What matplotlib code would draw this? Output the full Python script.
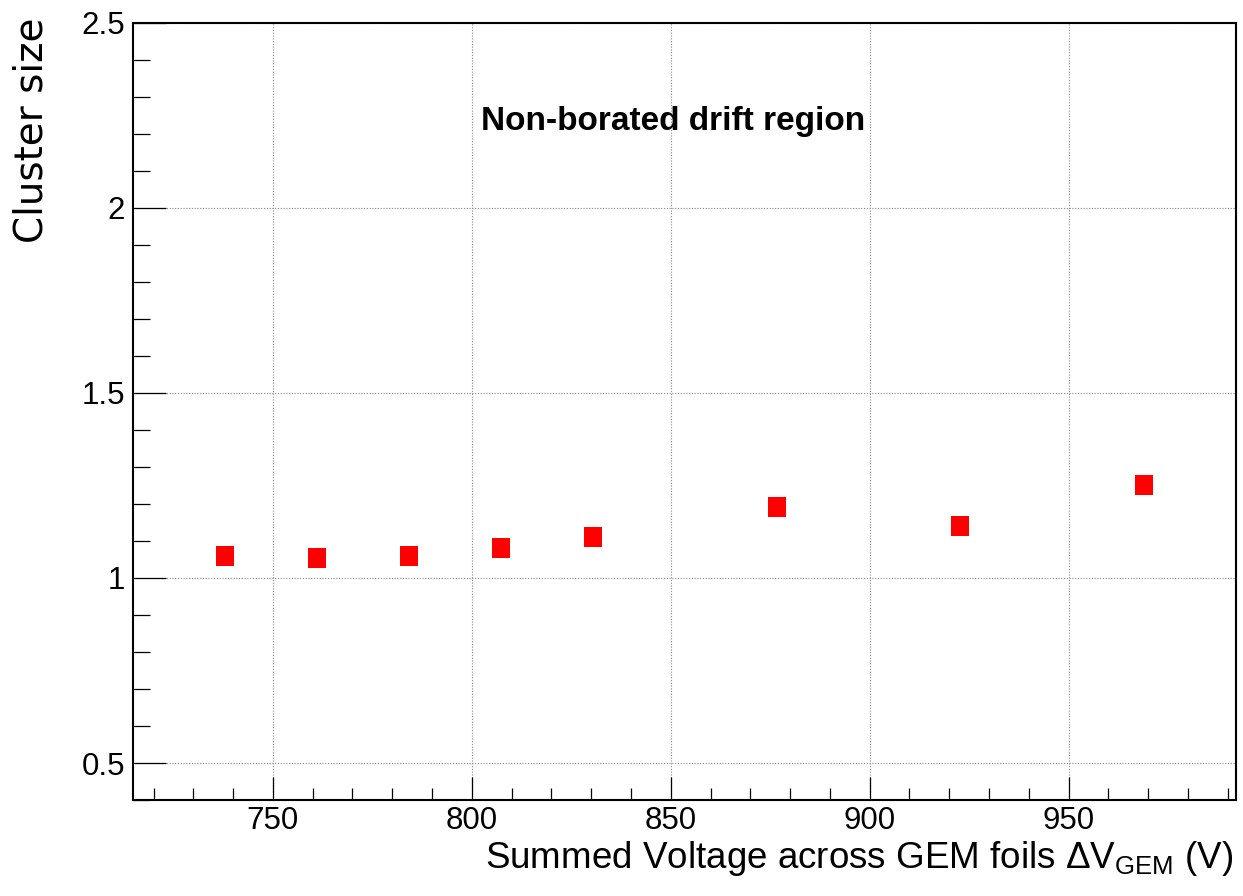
import matplotlib
matplotlib.use("Agg")
import matplotlib.pyplot as plt
from matplotlib.ticker import MultipleLocator

# data
voltage = [738.0, 761.1, 784.2, 807.3, 830.5, 876.6, 922.8, 969.0]
cluster_size = [1.059, 1.054, 1.059, 1.080, 1.111, 1.191, 1.139, 1.251]

plt.rcParams['font.family'] = ['Liberation Sans', 'DejaVu Sans']
plt.rcParams['mathtext.fontset'] = 'custom'
plt.rcParams['mathtext.rm'] = 'Liberation Sans'
plt.rcParams['mathtext.it'] = 'Liberation Sans:italic'

fig = plt.figure(figsize=(12.43, 8.96), dpi=100)
ax = fig.add_axes([0.1072, 0.1071, 0.8872, 0.8676])

# slightly tall box marker like the ROOT one
rect = [(-0.41, -0.5), (0.41, -0.5), (0.41, 0.5), (-0.41, 0.5), (-0.41, -0.5)]
ax.plot(voltage, cluster_size, linestyle='none', marker=rect, markersize=15,
        color='#ff0000', markeredgewidth=0, zorder=3)

ax.set_xlim(714.9, 992.1)
ax.set_ylim(0.4, 2.5)
ax.xaxis.set_major_locator(MultipleLocator(50))
ax.xaxis.set_minor_locator(MultipleLocator(10))
ax.yaxis.set_major_locator(MultipleLocator(0.5))
ax.yaxis.set_minor_locator(MultipleLocator(0.1))
ax.set_yticks([0.5, 1, 1.5, 2, 2.5])
ax.set_yticklabels(['0.5', '1', '1.5', '2', '2.5'])

ax.tick_params(axis='both', which='both', direction='in', top=False, right=False,
               labelsize=22.5, width=0.9, color='black')
ax.tick_params(axis='x', which='major', length=16.6, pad=4)
ax.tick_params(axis='x', which='minor', length=8.5)
ax.tick_params(axis='y', which='major', length=23.8, pad=6)
ax.tick_params(axis='y', which='minor', length=12)

for s in ax.spines.values():
    s.set_linewidth(1.5)
    s.set_color('black')

ax.grid(True, which='major', linestyle=(0, (1, 1.5)), color='#888888', linewidth=0.8)
ax.set_axisbelow(True)

ax.text(0.490, 0.862, 'Non-borated drift region', transform=ax.transAxes,
        ha='center', va='baseline', fontsize=24, fontweight='bold')

fig.text(1233 / 1243, 1 - 868 / 896, r'Summed Voltage across GEM foils ΔV$_{\mathrm{GEM}}$ (V)',
         ha='right', va='baseline', fontsize=26.5)
fig.text(0.010, 0.981, 'Cluster size', rotation=90, ha='left', va='top',
         fontsize=28, family='DejaVu Sans')

fig.savefig('out.png', dpi=100)
